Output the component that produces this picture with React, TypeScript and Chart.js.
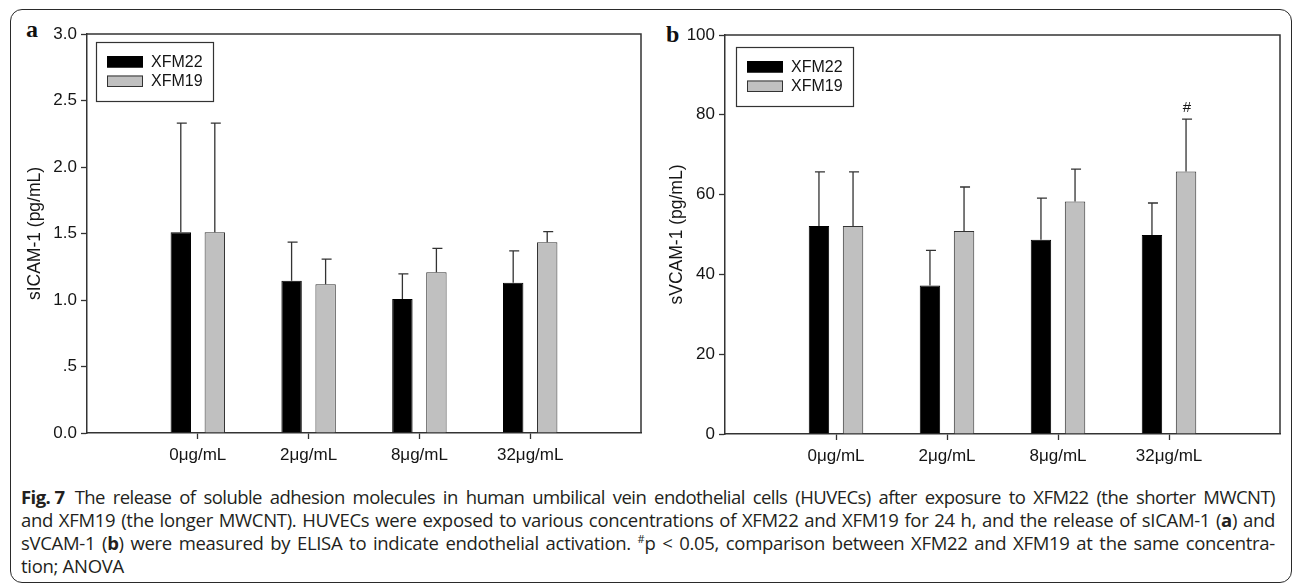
import React, { useEffect, useRef } from "react";
import { Chart, registerables } from "chart.js";

Chart.register(...registerables);

// ---------- data ----------
const categories = ["0μg/mL", "2μg/mL", "8μg/mL", "32μg/mL"];
const seriesNames = ["XFM22", "XFM19"];

const sicamXFM22 = [1.51, 1.145, 1.007, 1.13];
const sicamXFM22Err = [0.82, 0.29, 0.19, 0.24];
const sicamXFM19 = [1.51, 1.118, 1.208, 1.434];
const sicamXFM19Err = [0.82, 0.19, 0.18, 0.08];

const svcamXFM22 = [52.1, 37.2, 48.7, 49.9];
const svcamXFM22Err = [13.6, 8.8, 10.4, 8.0];
const svcamXFM19 = [52.1, 50.9, 58.3, 65.8];
const svcamXFM19Err = [13.6, 11.0, 8.1, 13.1];
const svcamXFM19Marks = ["", "", "", "#"];

const sicamTicks = [0, 0.5, 1, 1.5, 2, 2.5, 3];
const sicamTickLabels = ["0.0", ".5", "1.0", "1.5", "2.0", "2.5", "3.0"];
const svcamTicks = [0, 20, 40, 60, 80, 100];
const svcamTickLabels = ["0", "20", "40", "60", "80", "100"];

// ---------- styles ----------
const SANS = '"Liberation Sans", Arial, sans-serif';
const AXIS = "#333333";
const TEXT = "#151515";
const COLORS = ["#000000", "#c0c0c0"];
const BORDERS = ["#000000", "#333333"];

type PanelProps = {
  left: number;
  top: number;
  width: number;
  height: number;
  yTitle: string;
  yTicks: number[];
  yLabels: string[];
  s1: number[];
  e1: number[];
  s2: number[];
  e2: number[];
  marks2?: string[];
  yAxisWidth: number;
  xAxisHeight: number;
  pad: { left: number; right: number; top: number; bottom: number };
  titlePad: number;
  legendOff: { dx: number; dy: number };
};

function makeFramePlugin() {
  return {
    id: "frameBox",
    afterDraw(chart: any) {
      const { ctx, chartArea } = chart;
      ctx.save();
      ctx.strokeStyle = AXIS;
      ctx.lineWidth = 1.5;
      ctx.beginPath();
      ctx.moveTo(chartArea.left, chartArea.top);
      ctx.lineTo(chartArea.right, chartArea.top);
      ctx.lineTo(chartArea.right, chartArea.bottom);
      ctx.stroke();
      ctx.restore();
    },
  };
}

function makeErrorPlugin() {
  return {
    id: "errorBars",
    afterDatasetsDraw(chart: any) {
      const { ctx } = chart;
      const yScale = chart.scales.y;
      ctx.save();
      chart.data.datasets.forEach((ds: any, i: number) => {
        const meta = chart.getDatasetMeta(i);
        meta.data.forEach((el: any, j: number) => {
          const v = ds.data[j].y;
          const err = ds.errorValues ? ds.errorValues[j] : 0;
          const yTop = yScale.getPixelForValue(v + err);
          const x = el.x;
          ctx.strokeStyle = AXIS;
          ctx.lineWidth = 1.3;
          ctx.beginPath();
          ctx.moveTo(x, el.y);
          ctx.lineTo(x, yTop);
          ctx.moveTo(x - 4, yTop);
          ctx.lineTo(x + 6, yTop);
          ctx.stroke();
          const mark = ds.marks ? ds.marks[j] : "";
          if (mark) {
            ctx.fillStyle = TEXT;
            ctx.font = `15px ${SANS}`;
            ctx.textAlign = "center";
            ctx.textBaseline = "bottom";
            ctx.fillText(mark, x + 1, yTop - 4);
          }
        });
      });
      ctx.restore();
    },
  };
}

function makeLegendPlugin(off: { dx: number; dy: number }) {
  return {
    id: "boxLegend",
    afterDraw(chart: any) {
      const { ctx, chartArea } = chart;
      const bx = Math.round(chartArea.left + off.dx);
      const by = Math.round(chartArea.top + off.dy);
      const bw = 117;
      const bh = 59;
      ctx.save();
      ctx.fillStyle = "#ffffff";
      ctx.fillRect(bx, by, bw, bh);
      ctx.strokeStyle = AXIS;
      ctx.lineWidth = 1.2;
      ctx.strokeRect(bx + 0.5, by + 0.5, bw, bh);
      chart.data.datasets.forEach((ds: any, i: number) => {
        const sy = by + 14 + i * 19.5;
        ctx.fillStyle = ds.backgroundColor;
        ctx.fillRect(bx + 11, sy, 36, 11.5);
        ctx.strokeStyle = ds.borderColor;
        ctx.lineWidth = 1;
        ctx.strokeRect(bx + 11.5, sy + 0.5, 35, 10.5);
        ctx.fillStyle = TEXT;
        ctx.font = `16px ${SANS}`;
        ctx.textAlign = "left";
        ctx.textBaseline = "middle";
        ctx.fillText(ds.label, bx + 55, sy + 6.5);
      });
      ctx.restore();
    },
  };
}

function Panel(p: PanelProps) {
  const ref = useRef<HTMLCanvasElement | null>(null);
  useEffect(() => {
    if (!ref.current) return;
    const n = categories.length;
    const chart = new Chart(ref.current, {
      type: "bar",
      data: {
        datasets: [
          {
            label: seriesNames[0],
            data: p.s1.map((v, i) => ({ x: i + 1, y: v })),
            backgroundColor: COLORS[0],
            borderColor: BORDERS[0],
            borderWidth: 1,
            errorValues: p.e1,
          } as any,
          {
            label: seriesNames[1],
            data: p.s2.map((v, i) => ({ x: i + 1, y: v })),
            backgroundColor: COLORS[1],
            borderColor: BORDERS[1],
            borderWidth: 1,
            errorValues: p.e2,
            marks: p.marks2,
          } as any,
        ],
      },
      options: {
        animation: false,
        responsive: false,
        devicePixelRatio: 1,
        layout: { padding: p.pad },
        datasets: {
          bar: { categoryPercentage: 0.614, barPercentage: 0.6, grouped: true },
        },
        plugins: {
          legend: { display: false },
          tooltip: { enabled: false },
          title: { display: false },
        },
        scales: {
          x: {
            type: "linear",
            offset: false,
            min: 0,
            max: n + 1,
            afterBuildTicks: (s: any) => {
              s.ticks = Array.from({ length: n + 2 }, (_, i) => ({ value: i }));
            },
            afterFit: (s: any) => {
              s.height = p.xAxisHeight;
            },
            ticks: {
              autoSkip: false,
              maxRotation: 0,
              padding: 6,
              color: TEXT,
              font: { family: SANS, size: 17 },
              callback: (v: any) => categories[Number(v) - 1] ?? "",
            },
            grid: {
              offset: false,
              drawOnChartArea: false,
              tickLength: 6,
              tickWidth: 1.3,
              tickColor: (c: any) =>
                c.tick && c.tick.value >= 1 && c.tick.value <= n ? AXIS : "rgba(0,0,0,0)",
            },
            border: { color: AXIS, width: 1.5 },
          },
          y: {
            min: p.yTicks[0],
            max: p.yTicks[p.yTicks.length - 1],
            afterBuildTicks: (s: any) => {
              s.ticks = p.yTicks.map((v) => ({ value: v }));
            },
            afterFit: (s: any) => {
              s.width = p.yAxisWidth;
            },
            ticks: {
              padding: 4,
              color: TEXT,
              font: { family: SANS, size: 17 },
              callback: (_v: any, i: number) => p.yLabels[i],
            },
            grid: { drawOnChartArea: false, tickLength: 6, tickWidth: 1.3, tickColor: AXIS },
            border: { color: AXIS, width: 1.5 },
            title: {
              display: true,
              text: p.yTitle,
              color: TEXT,
              font: { family: SANS, size: 17.5 },
              padding: { top: p.titlePad, bottom: 0 },
            },
          },
        },
      } as any,
      plugins: [makeFramePlugin(), makeErrorPlugin(), makeLegendPlugin(p.legendOff)],
    });
    return () => chart.destroy();
  }, []);
  return (
    <canvas
      ref={ref}
      width={p.width}
      height={p.height}
      style={{ position: "absolute", left: p.left, top: p.top, width: p.width, height: p.height }}
    />
  );
}

const capLine: React.CSSProperties = {
  textAlign: "justify",
  textAlignLast: "justify" as any,
  height: 23,
  lineHeight: "23px",
  whiteSpace: "nowrap",
};

export default function App() {
  return (
    <div
      style={{
        position: "absolute",
        left: 0,
        top: 0,
        width: 1295,
        height: 586,
        background: "#ffffff",
        overflow: "hidden",
      }}
    >
      <div
        style={{
          position: "absolute",
          left: 10,
          top: 9,
          width: 1282,
          height: 574,
          border: "1.2px solid #2a2a2a",
          borderRadius: 12,
          boxSizing: "border-box",
        }}
      />
      <div
        style={{
          position: "absolute",
          left: 26,
          top: 17,
          font: 'bold 24px "Liberation Serif", "Times New Roman", serif',
          lineHeight: "24px",
          color: "#111",
        }}
      >
        a
      </div>
      <div
        style={{
          position: "absolute",
          left: 666,
          top: 22,
          font: 'bold 24px "Liberation Serif", "Times New Roman", serif',
          lineHeight: "24px",
          color: "#111",
        }}
      >
        b
      </div>
      <Panel
        left={12}
        top={12}
        width={640}
        height={460}
        yTitle="sICAM-1 (pg/mL)"
        yTicks={sicamTicks}
        yLabels={sicamTickLabels}
        s1={sicamXFM22}
        e1={sicamXFM22Err}
        s2={sicamXFM19}
        e2={sicamXFM19Err}
        yAxisWidth={75}
        xAxisHeight={39}
        pad={{ left: 0, right: 11, top: 22, bottom: 0 }}
        titlePad={13}
        legendOff={{ dx: 9.3, dy: 7.7 }}
      />
      <Panel
        left={652}
        top={12}
        width={640}
        height={460}
        yTitle="sVCAM-1 (pg/mL)"
        yTicks={svcamTicks}
        yLabels={svcamTickLabels}
        s1={svcamXFM22}
        e1={svcamXFM22Err}
        s2={svcamXFM19}
        e2={svcamXFM19Err}
        marks2={svcamXFM19Marks}
        yAxisWidth={73}
        xAxisHeight={38}
        pad={{ left: 0, right: 12, top: 23, bottom: 0 }}
        titlePad={14.5}
        legendOff={{ dx: 11.3, dy: 11.7 }}
      />
      <div
        style={{
          position: "absolute",
          left: 21,
          top: 485,
          width: 1254,
          font: '18.5px "Open Sans", "Noto Sans", sans-serif',
          letterSpacing: "-0.3px",
          color: "#231f20",
        }}
      >
        <div style={{ ...capLine, letterSpacing: "-0.55px" }}>
          <b style={{ display: "inline-block", marginRight: 10 }}>Fig.&nbsp;7</b>The release of soluble
          adhesion molecules in human umbilical vein endothelial cells (HUVECs) after exposure to XFM22 (the
          shorter MWCNT)
        </div>
        <div style={capLine}>
          and XFM19 (the longer MWCNT). HUVECs were exposed to various concentrations of XFM22 and XFM19 for
          24 h, and the release of sICAM-1 (<b>a</b>) and
        </div>
        <div style={capLine}>
          sVCAM-1 (<b>b</b>) were measured by ELISA to indicate endothelial activation.{" "}
          <sup style={{ fontSize: 11, lineHeight: 0 }}>#</sup>p &lt; 0.05, comparison between XFM22 and XFM19 at
          the same concentra-
        </div>
        <div style={{ height: 23, lineHeight: "23px" }}>tion; ANOVA</div>
      </div>
    </div>
  );
}
